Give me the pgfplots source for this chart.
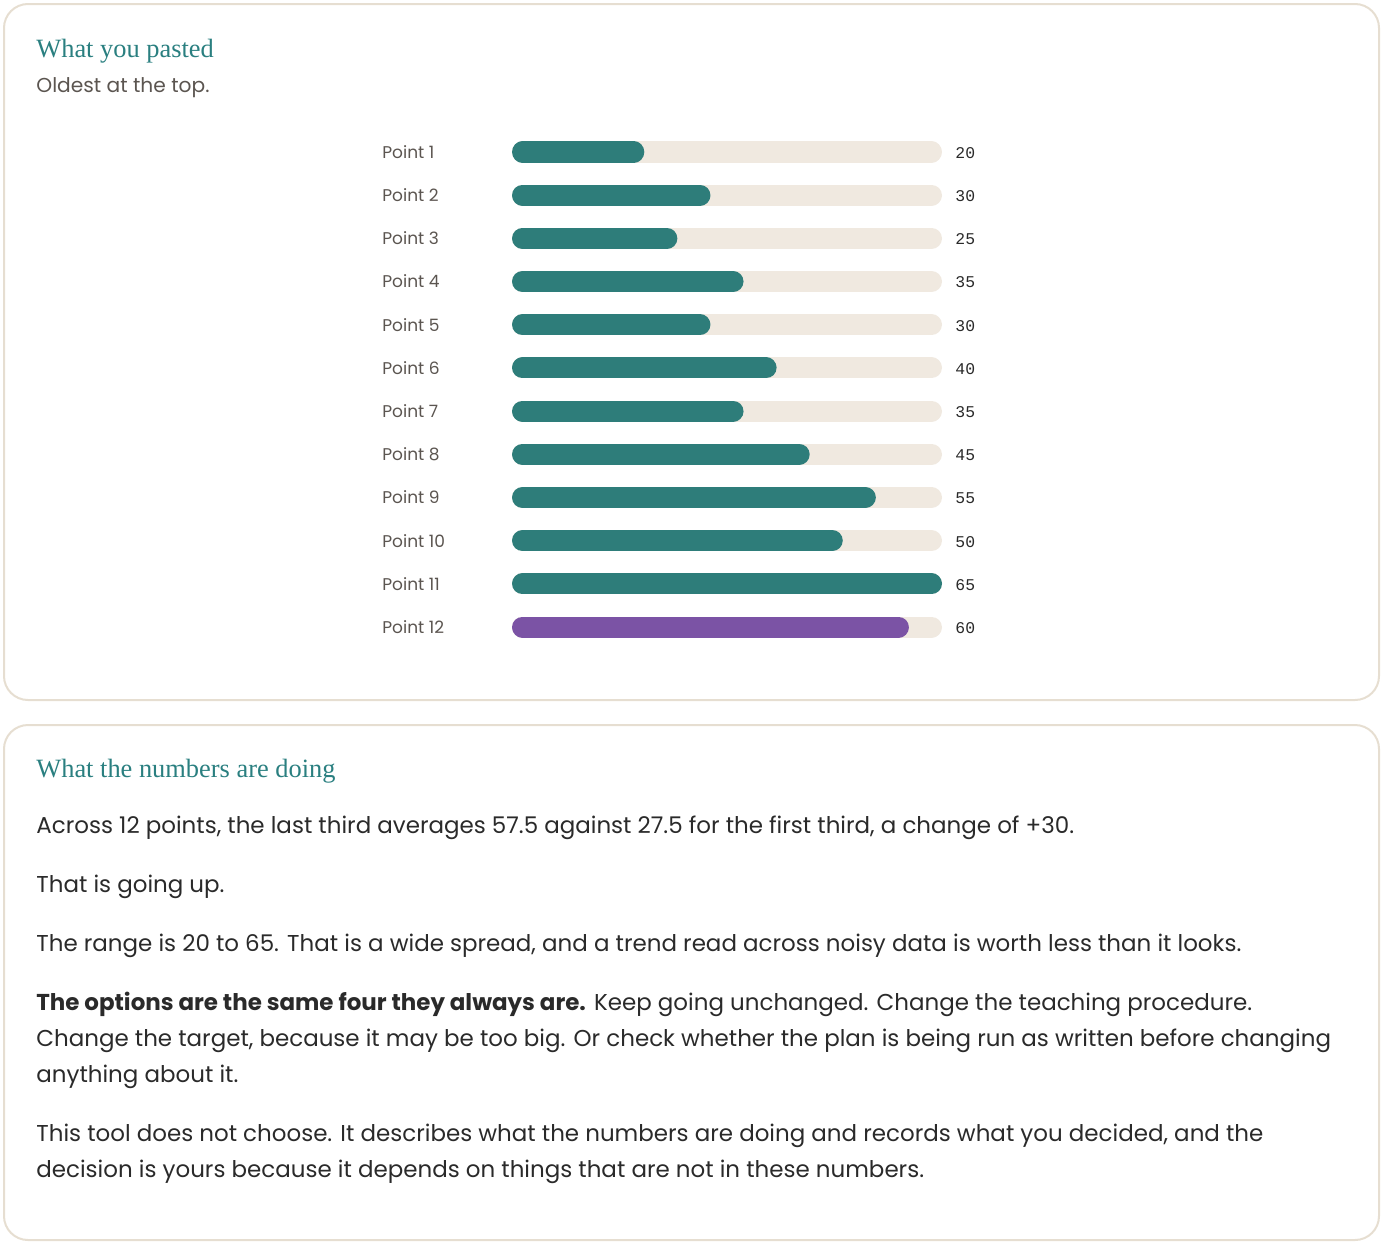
\documentclass[border=0pt]{standalone}
\usepackage{pgfplots}
\pgfplotsset{compat=1.18}
\usepackage{pgfplotstable}
\usepackage{fontspec}
\setmainfont{Poppins}
\newfontfamily\titlefont{Liberation Serif}
\newfontfamily\monofont{Liberation Mono}
\definecolor{barteal}{HTML}{2E7D7A}
\definecolor{titleteal}{HTML}{2A7F80}
\definecolor{barpurple}{HTML}{7B53A5}
\definecolor{track}{HTML}{F0E9E0}
\definecolor{cardborder}{HTML}{E6DED1}
\definecolor{bodytext}{HTML}{2A2A2A}
\definecolor{subgray}{HTML}{5B5550}

\pgfplotstableread{
y v
1 20
2 30
3 25
4 35
5 30
6 40
7 35
8 45
9 55
10 50
11 65
12 60
}\data

\begin{document}
\begin{tikzpicture}
\path[use as bounding box] (0,0) rectangle (700pt,-629pt);
\begin{scope}[x=0.5pt,y=-0.5pt]
  % cards
  \draw[cardborder, line width=1pt, rounded corners=12pt] (4,4) rectangle (1379,700);
  \draw[cardborder, line width=1pt, rounded corners=12pt] (4,725) rectangle (1379,1240);
  % titles
  \node[anchor=base west, inner sep=0pt, text=titleteal, font=\titlefont\fontsize{13.2pt}{14pt}\selectfont] at (36,57) {What you pasted};
  \node[anchor=base west, inner sep=0pt, text=subgray, font=\fontsize{10.1pt}{12pt}\selectfont] at (36,92) {Oldest at the top.};
  \node[anchor=base west, inner sep=0pt, text=titleteal, font=\titlefont\fontsize{13.2pt}{14pt}\selectfont] at (36,777) {What the numbers are doing};
  % body
  \begin{scope}[every node/.style={anchor=base west, inner sep=0pt, text=bodytext, font=\fontsize{11.48pt}{13pt}\selectfont}]
    \node at (36,833) {Across 12 points, the last third averages 57.5 against 27.5 for the first third, a change of +30.};
    \node at (36,892) {That is going up.};
    \node at (36,951) {The range is 20 to 65. That is a wide spread, and a trend read across noisy data is worth less than it looks.};
    \node at (36,1010) {\textbf{The options are the same four they always are.} Keep going unchanged. Change the teaching procedure.};
    \node at (36,1046) {Change the target, because it may be too big. Or check whether the plan is being run as written before changing};
    \node at (36,1082) {anything about it.};
    \node at (36,1141) {This tool does not choose. It describes what the numbers are doing and records what you decided, and the};
    \node at (36,1177) {decision is yours because it depends on things that are not in these numbers.};
  \end{scope}
\end{scope}

\begin{axis}[
  at={(256pt,-65.2pt)}, anchor=north west,
  scale only axis, width=215pt, height=259.1pt,
  xmin=0, xmax=65, ymin=0.5, ymax=12.5, y dir=reverse,
  clip=false,
  axis lines=left, axis line style={draw=none},
  xtick=\empty,
  ytick={1,...,12},
  yticklabels={Point 1,Point 2,Point 3,Point 4,Point 5,Point 6,Point 7,Point 8,Point 9,Point 10,Point 11,Point 12},
  major tick length=0pt, ytick style={draw=none},
  yticklabel style={anchor=west, xshift=-65pt, inner sep=0pt, text=subgray, font=\fontsize{8.5pt}{9pt}\selectfont},
]
% track
\addplot[track, line width=10.5pt, line cap=round, quiver={u=65-3.174, v=0}] table[x expr=1.587, y=y] \data;
% values
\addplot[barteal, line width=10.5pt, line cap=round, quiver={u=\thisrow{v}-3.174, v=0}, restrict y to domain=1:11] table[x expr=1.587, y=y] \data;
\addplot[barpurple, line width=10.5pt, line cap=round, quiver={u=\thisrow{v}-3.174, v=0}, restrict y to domain=12:12] table[x expr=1.587, y=y] \data;
% value labels
\addplot[draw=none, point meta=explicit symbolic,
  nodes near coords={\pgfplotspointmeta},
  every node near coord/.style={anchor=west, xshift=6.5pt, yshift=-0.5pt, inner sep=0pt, text=bodytext, font=\monofont\fontsize{8.2pt}{9pt}\selectfont}]
  table[x expr=65, y=y, meta=v] \data;
\end{axis}
\end{tikzpicture}
\end{document}
